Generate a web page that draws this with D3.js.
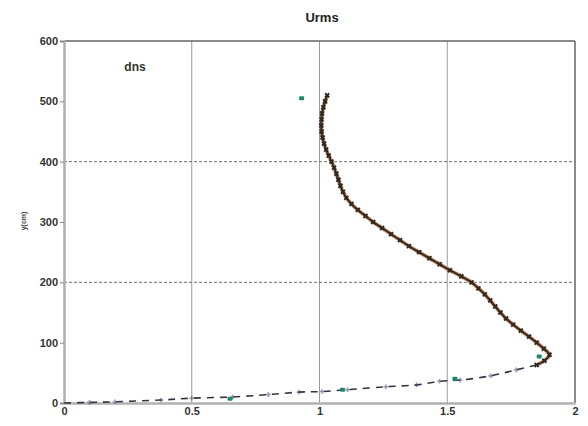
<!DOCTYPE html>
<html>
<head>
<meta charset="utf-8">
<script src="https://cdn.jsdelivr.net/npm/d3@7"></script>
<style>
  body { margin: 0; background: #fff; }
  text { font-family: "Liberation Sans", Arial, sans-serif; }
</style>
</head>
<body>
<script>
// chart size
var w = 588;
var h = 426;
var margin = {top: 41, right: 13, bottom: 23, left: 64};

// data: [Urms, y]
var xTicks = [0, 0.5, 1, 1.5, 2];
var yTicks = [0, 100, 200, 300, 400, 500, 600];
var gridY = [200, 400];

// dns profile (solid, dense markers)
var dnsProfile = [
  [1.03, 510], [1.022, 500], [1.015, 490], [1.01, 480], [1.008, 470], [1.007, 460],
  [1.008, 450], [1.012, 440], [1.018, 430], [1.026, 420], [1.036, 410], [1.047, 400],
  [1.057, 390], [1.066, 380], [1.074, 370], [1.082, 360], [1.092, 350], [1.105, 340],
  [1.125, 330], [1.15, 320], [1.18, 310], [1.21, 300], [1.245, 290], [1.28, 280],
  [1.315, 270], [1.35, 260], [1.39, 250], [1.43, 240], [1.47, 230], [1.51, 220],
  [1.555, 210], [1.595, 200], [1.622, 190], [1.647, 180], [1.668, 170], [1.688, 160],
  [1.708, 150], [1.73, 140], [1.758, 130], [1.788, 120], [1.82, 110], [1.85, 100],
  [1.878, 90], [1.9, 80], [1.88, 70], [1.85, 63]
];

// near-wall part (dashed)
var nearWall = [
  [1.85, 63], [1.77, 55], [1.67, 45], [1.55, 38], [1.47, 36], [1.38, 30],
  [1.26, 27], [1.11, 22], [1.01, 19], [0.92, 18], [0.8, 14], [0.66, 10],
  [0.5, 8], [0.38, 5], [0.2, 2], [0.1, 1], [0, 0]
];

// other points (green)
var greenPts = [
  [0.65, 7], [1.09, 22], [1.53, 40], [1.86, 77], [0.93, 505]
];

var xScale = d3.scaleLinear().domain([0, 2]).range([margin.left, w - margin.right]);
var yScale = d3.scaleLinear().domain([0, 600]).range([h - margin.bottom, margin.top]);

var svg = d3.select("body").append("svg")
  .attr("width", w)
  .attr("height", h);

// vertical grid
svg.append("g")
  .selectAll("line")
  .data([0.5, 1, 1.5])
  .enter().append("line")
  .attr("x1", function(d) { return xScale(d); })
  .attr("x2", function(d) { return xScale(d); })
  .attr("y1", yScale(0))
  .attr("y2", yScale(600))
  .attr("stroke", "#9a9a9a")
  .attr("stroke-width", 1);

// horizontal grid
svg.append("g")
  .selectAll("line")
  .data(gridY)
  .enter().append("line")
  .attr("x1", xScale(0))
  .attr("x2", xScale(2))
  .attr("y1", function(d) { return yScale(d); })
  .attr("y2", function(d) { return yScale(d); })
  .attr("stroke", "#707070")
  .attr("stroke-width", 1)
  .attr("stroke-dasharray", "3,2");

// frame top & right
svg.append("line")
  .attr("x1", xScale(0)).attr("x2", xScale(2))
  .attr("y1", yScale(600)).attr("y2", yScale(600))
  .attr("stroke", "#666").attr("stroke-width", 1.5);
svg.append("line")
  .attr("x1", xScale(2)).attr("x2", xScale(2))
  .attr("y1", yScale(0)).attr("y2", yScale(600))
  .attr("stroke", "#666").attr("stroke-width", 1.5);

// axes
var xAxis = d3.axisBottom(xScale).tickValues(xTicks).tickSize(0).tickPadding(4)
  .tickFormat(function(d) { return d3.format("")(d); });
var yAxis = d3.axisLeft(yScale).tickValues(yTicks).tickSize(4).tickPadding(2);

var gx = svg.append("g")
  .attr("transform", "translate(0," + yScale(0) + ")")
  .call(xAxis);
var gy = svg.append("g")
  .attr("transform", "translate(" + xScale(0) + ",0)")
  .call(yAxis);

[gx, gy].forEach(function(g) {
  g.select(".domain").attr("stroke", "#b0b0b0").attr("stroke-width", 2.5);
  g.selectAll(".tick line").attr("stroke", "#888");
  g.selectAll(".tick text")
    .attr("fill", "#333")
    .style("font-size", "11px")
    .style("font-weight", "bold");
});

// title
svg.append("text")
  .attr("x", 322).attr("y", 22)
  .attr("text-anchor", "middle")
  .attr("fill", "#222")
  .style("font-size", "13px")
  .style("font-weight", "bold")
  .text("Urms");

// inside label
svg.append("text")
  .attr("x", 135).attr("y", 71)
  .attr("text-anchor", "middle")
  .attr("fill", "#333")
  .style("font-size", "12px")
  .style("font-weight", "bold")
  .text("dns");

// y label
svg.append("text")
  .attr("transform", "translate(26,221) rotate(-90)")
  .attr("text-anchor", "middle")
  .attr("fill", "#444")
  .style("font-size", "7px")
  .style("font-weight", "bold")
  .text("y(cm)");

var line = d3.line()
  .curve(d3.curveCatmullRom)
  .x(function(d) { return xScale(d[0]); })
  .y(function(d) { return yScale(d[1]); });

// near-wall dashed
svg.append("path")
  .datum(nearWall)
  .attr("d", line)
  .attr("fill", "none")
  .attr("stroke", "#34343c")
  .attr("stroke-width", 1.6)
  .attr("stroke-dasharray", "7,6");

svg.append("g")
  .selectAll("path")
  .data(nearWall.slice(1, -1))
  .enter().append("path")
  .attr("d", d3.symbol().type(d3.symbolCross).size(12))
  .attr("transform", function(d) { return "translate(" + xScale(d[0]) + "," + yScale(d[1]) + ")"; })
  .attr("fill", "#4a5080")
  .attr("opacity", 0.6);

// main profile: orange line + dark markers
svg.append("path")
  .datum(dnsProfile)
  .attr("d", line)
  .attr("fill", "none")
  .attr("stroke", "#e8a080")
  .attr("stroke-width", 4);

svg.append("path")
  .datum(dnsProfile)
  .attr("d", line)
  .attr("fill", "none")
  .attr("stroke", "#3b3326")
  .attr("stroke-width", 2.2);

svg.append("g")
  .selectAll("path")
  .data(dnsProfile)
  .enter().append("path")
  .attr("d", d3.symbol().type(d3.symbolCross).size(18))
  .attr("transform", function(d) { return "translate(" + xScale(d[0]) + "," + yScale(d[1]) + ") rotate(45)"; })
  .attr("fill", "#2f2a20");

// green points
svg.append("g")
  .selectAll("rect")
  .data(greenPts)
  .enter().append("rect")
  .attr("x", function(d) { return xScale(d[0]) - 2.5; })
  .attr("y", function(d) { return yScale(d[1]) - 2; })
  .attr("width", 5)
  .attr("height", 4)
  .attr("rx", 1)
  .attr("fill", "#1f8a6a");
</script>
</body>
</html>
